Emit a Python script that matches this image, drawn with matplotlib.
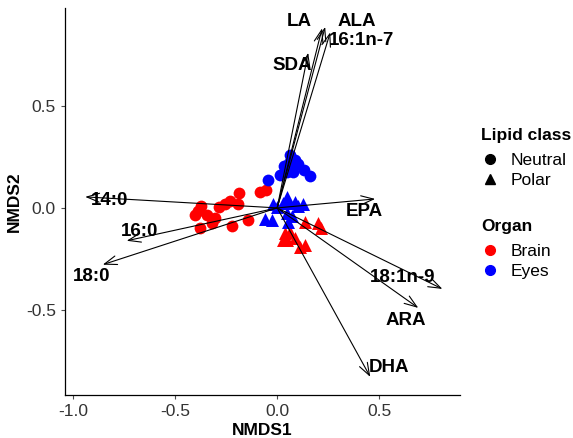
import matplotlib
matplotlib.use("Agg")
import matplotlib.pyplot as plt
from matplotlib.lines import Line2D

plt.rcParams['font.family'] = ['Liberation Sans', 'DejaVu Sans']

# Sample scores (NMDS1, NMDS2)
brain_neutral_x = [-0.186, -0.191, -0.230, -0.255, -0.284, -0.373, -0.387, -0.402, -0.304, -0.319, -0.377, -0.221, -0.142, -0.083, -0.054, -0.343]
brain_neutral_y = [0.074, 0.020, 0.034, 0.020, 0.005, 0.010, -0.015, -0.034, -0.049, -0.074, -0.098, -0.088, -0.059, 0.078, 0.088, -0.034]
eyes_neutral_x = [0.064, 0.088, 0.034, 0.103, 0.049, 0.015, 0.078, 0.132, 0.162, -0.044, 0.059]
eyes_neutral_y = [0.260, 0.235, 0.206, 0.216, 0.176, 0.162, 0.176, 0.186, 0.157, 0.137, 0.220]
brain_polar_x = [0.137, 0.201, 0.216, 0.039, 0.049, 0.088, 0.137, 0.113, 0.064, 0.030]
brain_polar_y = [-0.069, -0.074, -0.098, -0.123, -0.157, -0.147, -0.181, -0.191, -0.118, -0.157]
eyes_polar_x = [0.049, 0.088, 0.127, 0.029, 0.054, -0.020, 0.000, -0.059, -0.025, 0.049, 0.074, 0.054, 0.103]
eyes_polar_y = [0.054, 0.029, 0.020, 0.025, 0.025, 0.020, 0.005, -0.054, -0.059, -0.025, -0.039, -0.069, 0.010]

# Fatty acid vectors
fa_names = ["14:0", "16:0", "18:0", "LA", "ALA", "16:1n-7", "SDA", "EPA", "18:1n-9", "ARA", "DHA"]
fa_x = [-0.940, -0.737, -0.854, 0.220, 0.235, 0.260, 0.152, 0.480, 0.809, 0.691, 0.456]
fa_y = [0.054, -0.161, -0.278, 0.880, 0.887, 0.860, 0.760, 0.044, -0.397, -0.490, -0.828]
lab_x = [-0.819, -0.676, -0.907, 0.110, 0.390, 0.415, 0.072, 0.426, 0.613, 0.632, 0.549]
lab_y = [0.034, -0.118, -0.338, 0.912, 0.912, 0.818, 0.700, -0.020, -0.343, -0.554, -0.784]

xticks = [-1.0, -0.5, 0.0, 0.5]
yticks = [-0.5, 0.0, 0.5]

fig = plt.figure(figsize=(5.73, 4.38), dpi=100)
ax = fig.add_axes([0.1134, 0.098, 0.690, 0.884])

ms = 72
ax.scatter(brain_neutral_x, brain_neutral_y, s=ms, c='#FF0000', marker='o', linewidths=0, zorder=2)
ax.scatter(eyes_neutral_x, eyes_neutral_y, s=ms, c='#0000FF', marker='o', linewidths=0, zorder=2)
ax.scatter(brain_polar_x, brain_polar_y, s=ms + 15, c='#FF0000', marker='^', linewidths=0, zorder=2)
ax.scatter(eyes_polar_x, eyes_polar_y, s=ms + 15, c='#0000FF', marker='^', linewidths=0, zorder=2)

for name, x, y, lx, ly in zip(fa_names, fa_x, fa_y, lab_x, lab_y):
    ax.annotate('', xy=(x, y), xytext=(0, 0),
                arrowprops=dict(arrowstyle='->,head_length=0.9,head_width=0.32', color='black', lw=0.8,
                                shrinkA=0, shrinkB=0), zorder=3)
    ax.text(lx, ly, name, ha='center', va='center', fontsize=13.5, fontweight='bold', zorder=4)

ax.set_xlim(-1.039, 0.897)
ax.set_ylim(-0.917, 0.98)
ax.set_xticks(xticks)
ax.set_yticks(yticks)
ax.set_xticklabels([f"{v:.1f}" for v in xticks])
ax.set_yticklabels([f"{v:.1f}" for v in yticks])
ax.tick_params(labelsize=12.5, colors='#4D4D4D', length=3)
for t in ax.get_xticklabels() + ax.get_yticklabels():
    t.set_color('#333333')
for s in ['top', 'right']:
    ax.spines[s].set_visible(False)
ax.spines['left'].set_linewidth(0.9)
ax.spines['bottom'].set_linewidth(0.9)
ax.set_xlabel('NMDS1', fontsize=12.5, fontweight='bold', labelpad=3)
ax.set_ylabel('NMDS2', fontsize=12.5, fontweight='bold', labelpad=3)

h1 = [Line2D([], [], marker='o', color='black', linestyle='', markersize=7),
      Line2D([], [], marker='^', color='black', linestyle='', markersize=7)]
leg1 = fig.legend(h1, ['Neutral', 'Polar'], title='Lipid class', loc='upper left',
                  bbox_to_anchor=(0.818, 0.735), frameon=False, fontsize=12.5,
                  title_fontproperties={'weight': 'bold', 'size': 12.5},
                  handlelength=1.0, handletextpad=0.7, labelspacing=0.25, alignment='left',
                  borderpad=0.2)
h2 = [Line2D([], [], marker='o', color='#FF0000', linestyle='', markersize=7),
      Line2D([], [], marker='o', color='#0000FF', linestyle='', markersize=7)]
leg2 = fig.legend(h2, ['Brain', 'Eyes'], title='Organ', loc='upper left',
                  bbox_to_anchor=(0.818, 0.527), frameon=False, fontsize=12.5,
                  title_fontproperties={'weight': 'bold', 'size': 12.5},
                  handlelength=1.0, handletextpad=0.7, labelspacing=0.25, alignment='left',
                  borderpad=0.2)
for lg in (leg1, leg2):
    lg._legend_box.sep = 7

fig.savefig('out.png', dpi=100)
